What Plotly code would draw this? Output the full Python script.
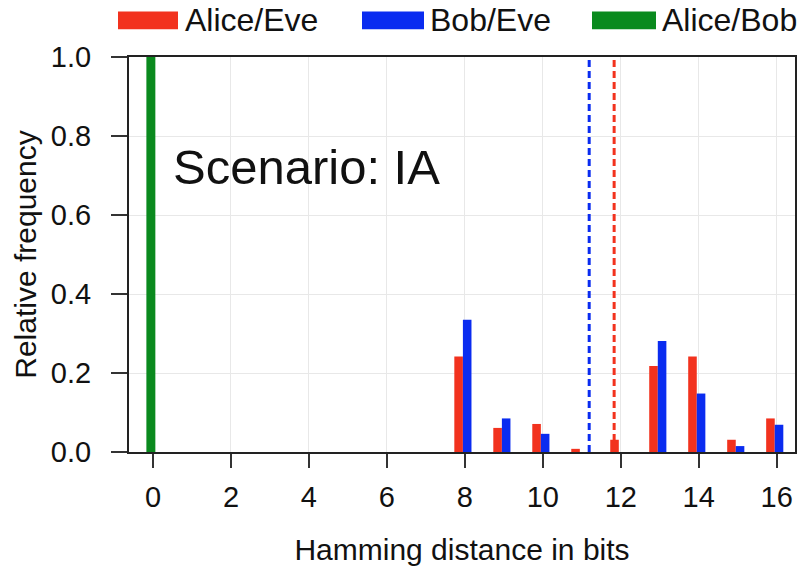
import plotly.graph_objects as go

# ---- data ----
distances = [8, 9, 10, 11, 12, 13, 14, 15, 16]
alice_eve = [0.242, 0.061, 0.071, 0.008, 0.031, 0.218, 0.242, 0.031, 0.085]
bob_eve = [0.335, 0.085, 0.046, 0.0, 0.0, 0.281, 0.148, 0.015, 0.069]
alice_bob_x = [0]
alice_bob = [1.0]
mean_lines = {"Bob/Eve": 11.19, "Alice/Eve": 11.83}
series_names = ["Alice/Eve", "Bob/Eve", "Alice/Bob"]
x_ticks = [0, 2, 4, 6, 8, 10, 12, 14, 16]
y_ticks = [0.0, 0.2, 0.4, 0.6, 0.8, 1.0]

RED = "#f2321e"
BLUE = "#0a2cf0"
GREEN = "#0a8a1e"
colors = {"Alice/Eve": RED, "Bob/Eve": BLUE, "Alice/Bob": GREEN}
FONT = "Liberation Sans, Arial, sans-serif"

FW, FH = 811, 573

fig = go.Figure()
fig.add_trace(go.Bar(x=distances, y=alice_eve, name="Alice/Eve", marker_color=RED,
                     offset=-0.27, width=0.22, marker_line_width=0))
fig.add_trace(go.Bar(x=distances, y=bob_eve, name="Bob/Eve", marker_color=BLUE,
                     offset=-0.05, width=0.22, marker_line_width=0))
fig.add_trace(go.Bar(x=alice_bob_x, y=alice_bob, name="Alice/Bob", marker_color=GREEN,
                     offset=-0.17, width=0.23, marker_line_width=0))

for name, xv in mean_lines.items():
    fig.add_shape(type="line", xref="x", yref="y", x0=xv, x1=xv, y0=0, y1=1.0,
                  line=dict(color=colors[name], width=3, dash="7px,4px"))

# plot area in window pixels
L, R_, T, B = 129, 795, 57, 457
W, H = R_ - L, B - T
def px(x): return (x - L) / W
def py(y): return (B - y) / H

legend_items = [("Alice/Eve", 118, 178, 183), ("Bob/Eve", 362, 424, 428), ("Alice/Bob", 592, 656, 660)]
for name, sx0, sx1, tx in legend_items:
    fig.add_shape(type="rect", xref="paper", yref="paper", x0=px(sx0), x1=px(sx1),
                  y0=py(29), y1=py(11), fillcolor=colors[name], line_width=0)
    fig.add_annotation(xref="paper", yref="paper", x=px(tx), y=py(20), text=name,
                       showarrow=False, xanchor="left", yanchor="middle",
                       font=dict(family=FONT, size=32, color="#111"))

fig.add_annotation(xref="paper", yref="paper", x=px(171), y=py(168), text="Scenario: IA",
                   showarrow=False, xanchor="left", yanchor="middle",
                   font=dict(family=FONT, size=49, color="#111"))

fig.update_layout(
    width=FW, height=FH,
    margin=dict(l=L, r=FW - R_, t=T, b=FH - B),
    paper_bgcolor="white", plot_bgcolor="white",
    barmode="overlay", showlegend=False,
    font=dict(family=FONT, color="#111"),
)
fig.update_xaxes(range=[-0.616, 16.47], tickvals=x_ticks, ticktext=[str(v) for v in x_ticks],
                 showgrid=True, gridcolor="#e8e8e8", gridwidth=1,
                 showline=True, linecolor="#222", linewidth=2, mirror=True,
                 ticks="outside", ticklen=14, tickwidth=2, tickcolor="#333",
                 tickfont=dict(family=FONT, size=29, color="#111"),
                 ticklabelstandoff=4,
                 zeroline=False,
                 title=dict(text="Hamming distance in bits", font=dict(family=FONT, size=30, color="#111"),
                            standoff=27))
fig.update_yaxes(range=[0, 1.0], tickvals=y_ticks, tickformat=".1f",
                 showgrid=True, gridcolor="#e8e8e8", gridwidth=1,
                 showline=True, linecolor="#222", linewidth=2, mirror=True,
                 ticks="outside", ticklen=16, tickwidth=2, tickcolor="#333",
                 tickfont=dict(family=FONT, size=29, color="#111"),
                 ticklabelstandoff=14,
                 zeroline=False,
                 title=dict(text="Relative frequency", font=dict(family=FONT, size=30, color="#111"),
                            standoff=5))

fig.write_html("out.html", config={"displayModeBar": False},
               post_script="document.body.style.margin='0';")
